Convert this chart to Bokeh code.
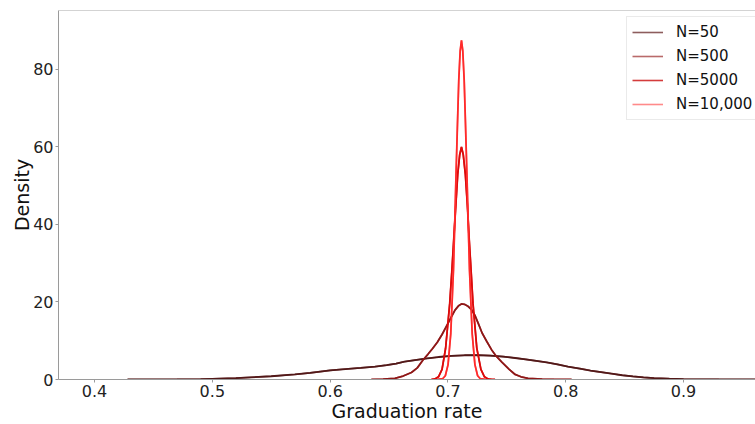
from bokeh.plotting import figure
from bokeh.models import Legend, LegendItem, Span, FixedTicker, Range1d
from bokeh.embed import file_html
from bokeh.resources import INLINE

# ---- data ----
labels = ["N=50", "N=500", "N=5000", "N=10,000"]

x_n50 = [0.428, 0.45, 0.47, 0.49, 0.50, 0.52, 0.55, 0.57, 0.583, 0.60, 0.613, 0.626,
         0.638, 0.648, 0.656, 0.663, 0.672, 0.681, 0.692, 0.703, 0.714, 0.725, 0.736,
         0.747, 0.757, 0.766, 0.775, 0.784, 0.793, 0.802, 0.812, 0.821, 0.830, 0.839,
         0.848, 0.857, 0.866, 0.875, 0.888, 0.90, 0.915, 0.93, 0.95, 0.97]
y_n50 = [0.0, 0.01, 0.03, 0.08, 0.17, 0.35, 0.84, 1.3, 1.7, 2.35, 2.7, 3.0,
         3.3, 3.7, 4.1, 4.6, 5.0, 5.4, 5.8, 6.1, 6.25, 6.3, 6.15,
         5.9, 5.55, 5.2, 4.8, 4.4, 3.9, 3.3, 2.8, 2.3, 1.9, 1.5,
         1.1, 0.8, 0.55, 0.35, 0.2, 0.1, 0.05, 0.02, 0.01, 0.0]

x_n500 = [0.635, 0.645, 0.655, 0.662, 0.669, 0.674, 0.679, 0.683, 0.687, 0.691, 0.695,
          0.699, 0.703, 0.706, 0.709, 0.7115, 0.714, 0.717, 0.720, 0.723, 0.726, 0.729,
          0.733, 0.737, 0.741, 0.746, 0.752, 0.757, 0.762, 0.768, 0.78, 0.79, 0.805]
y_n500 = [0.0, 0.1, 0.3, 0.9, 1.8, 3.0, 5.1, 6.5, 8.0, 9.6, 11.6,
          13.9, 16.2, 17.9, 19.0, 19.5, 19.4, 18.9, 18.0, 16.5, 14.3, 12.0,
          9.8, 7.7, 6.0, 4.4, 2.6, 1.3, 0.7, 0.3, 0.1, 0.03, 0.0]

x_n5000 = [0.686, 0.689, 0.692, 0.695, 0.698, 0.7015, 0.7033, 0.705, 0.7067, 0.7083, 0.71,
           0.7115, 0.713, 0.7148, 0.7165, 0.718, 0.7197, 0.7213, 0.7245, 0.728, 0.731,
           0.734, 0.737, 0.740]
y_n5000 = [0.0, 0.15, 0.7, 2.6, 8.0, 19.5, 27.8, 36.4, 45.0, 52.9, 58.0,
           60.0, 58.0, 52.9, 45.0, 36.4, 27.8, 19.5, 8.1, 2.6, 0.7,
           0.15, 0.03, 0.0]

x_n10000 = [0.691, 0.6955, 0.6978, 0.7001, 0.7024, 0.7047, 0.7058, 0.7069, 0.7081, 0.7092,
            0.7104, 0.7115, 0.7126, 0.7138, 0.7149, 0.7161, 0.7172, 0.7183, 0.7206,
            0.7229, 0.7252, 0.7275, 0.732]
y_n10000 = [0.0, 0.19, 0.97, 3.84, 11.8, 28.4, 40.5, 53.1, 66.0, 77.2,
            84.8, 87.5, 84.8, 77.2, 66.0, 53.1, 40.5, 28.4, 11.8,
            3.84, 0.97, 0.19, 0.0]

x_ticks = [0.4, 0.5, 0.6, 0.7, 0.8, 0.9]
y_ticks = [0, 20, 40, 60, 80]

line_colors = ["#521818", "#8e1717", "#dc0a0a", "#ff2b2b"]
legend_colors = ["#8d5d5d", "#b96a6a", "#d43c3c", "#ff8a8a"]

FONT = "DejaVu Sans"

p = figure(width=755, height=424, output_backend="svg", toolbar_location=None,
           x_range=Range1d(0.3694, 0.9611), y_range=Range1d(0, 95.2),
           min_border_left=58, min_border_right=0, min_border_top=10, min_border_bottom=44)
p.outline_line_color = None
p.xgrid.visible = False
p.ygrid.visible = False
p.background_fill_color = "white"

series = [(x_n50, y_n50), (x_n500, y_n500), (x_n5000, y_n5000), (x_n10000, y_n10000)]
items = []
# legend-coloured copies drawn first (hidden beneath the visible curves)
for (xs, ys), gc, lab in zip(series, legend_colors, labels):
    r = p.line(xs, ys, line_color=gc, line_width=1.6)
    items.append(LegendItem(label=lab, renderers=[r]))
for (xs, ys), lc in zip(series, line_colors):
    p.line(xs, ys, line_color=lc, line_width=1.8)

top_spine = Span(location=95.2, dimension="width", line_color="#a8a8a8", line_width=1)
p.add_layout(top_spine)

for ax in (p.xaxis[0], p.yaxis[0]):
    ax.axis_line_color = "#9a9a9a"
    ax.major_tick_line_color = "#9a9a9a"
    ax.minor_tick_line_color = None
    ax.major_tick_in = 0
    ax.major_tick_out = 3
    ax.major_label_text_font = FONT
    ax.major_label_text_font_size = "16px"
    ax.major_label_text_color = "#222222"
    ax.axis_label_text_font = FONT
    ax.axis_label_text_font_size = "19px"
    ax.axis_label_text_font_style = "normal"
    ax.axis_label_text_color = "#111111"
    ax.major_label_standoff = 2

p.xaxis[0].axis_label_standoff = 0
p.yaxis[0].axis_label_standoff = -3
p.xaxis.ticker = FixedTicker(ticks=x_ticks)
p.yaxis.ticker = FixedTicker(ticks=y_ticks)
p.xaxis.axis_label = "Graduation rate"
p.yaxis.axis_label = "Density"

legend = Legend(items=items, location=(568, 259))
legend.label_text_font = FONT
legend.label_text_font_size = "15px"
legend.label_text_color = "#111111"
legend.glyph_width = 31
legend.glyph_height = 20
legend.label_height = 20
legend.spacing = 4
legend.padding = 5
legend.margin = 0
legend.label_standoff = 13
legend.border_line_color = "#d6d6d6"
legend.border_line_width = 1
legend.background_fill_color = "white"
legend.background_fill_alpha = 1.0
p.add_layout(legend, "center")

open("out.html", "w").write(file_html(p, INLINE))
